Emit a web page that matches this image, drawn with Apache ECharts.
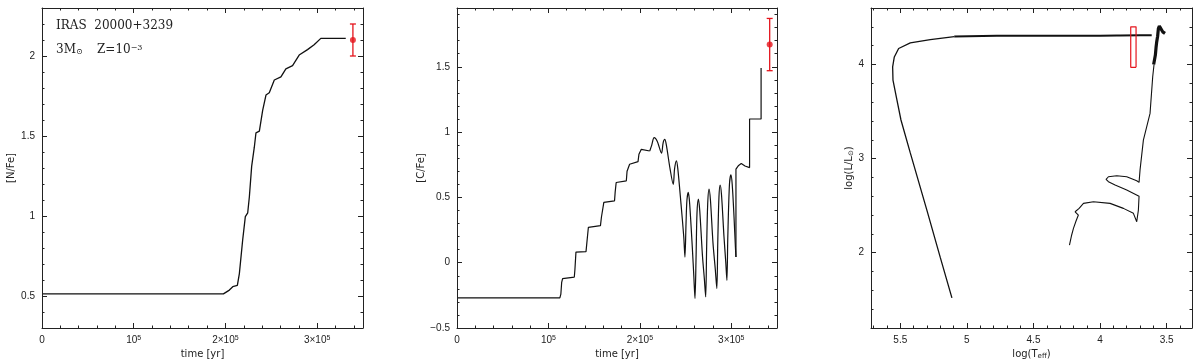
<!DOCTYPE html>
<html><head><meta charset="utf-8">
<script src="https://cdn.jsdelivr.net/npm/echarts@6/dist/echarts.min.js"></script>
<style>html,body{margin:0;padding:0;background:#fff}#c{width:1200px;height:363px}</style>
</head><body><div id="c"></div>
<script>
// ---------- DATA (time in units of 1e5 yr) ----------
const nfeTime = [0, 1.978, 2.043, 2.08, 2.13, 2.152, 2.188, 2.217, 2.243, 2.261, 2.286, 2.315, 2.333, 2.370, 2.406, 2.442, 2.478, 2.533, 2.605, 2.659, 2.732, 2.804, 2.895, 2.967, 3.040, 3.312];
const nfeVal  = [0.513, 0.513, 0.537, 0.558, 0.566, 0.64, 0.85, 0.996, 1.02, 1.12, 1.31, 1.43, 1.52, 1.53, 1.66, 1.756, 1.77, 1.85, 1.87, 1.92, 1.94, 2.006, 2.04, 2.07, 2.11, 2.11];

const cfeStepTime = [0, 1.125, 1.136, 1.145, 1.155, 1.283, 1.29, 1.301, 1.411, 1.42, 1.437, 1.569, 1.58, 1.606, 1.723, 1.73, 1.741, 1.852, 1.86, 1.888, 1.980, 1.99, 2.016, 2.108];
const cfeStepVal  = [-0.27, -0.27, -0.24, -0.15, -0.122, -0.11, -0.05, 0.081, 0.085, 0.15, 0.271, 0.284, 0.35, 0.462, 0.474, 0.54, 0.614, 0.627, 0.70, 0.754, 0.774, 0.83, 0.868, 0.855];
const cfeOscTime = [2.108, 2.13, 2.156, 2.19, 2.237, 2.255, 2.273, 2.29, 2.33, 2.365, 2.38, 2.40, 2.415, 2.45, 2.48, 2.493, 2.505, 2.515, 2.53, 2.545, 2.575, 2.59, 2.603, 2.615, 2.625, 2.64, 2.655, 2.685, 2.705, 2.72, 2.73, 2.742, 2.757, 2.772, 2.80, 2.825, 2.842, 2.852, 2.865, 2.878, 2.893, 2.92, 2.94, 2.952, 2.962, 2.98, 2.996, 3.01, 3.03, 3.045, 3.051];
const cfeOscVal  = [0.855, 0.90, 0.957, 0.93, 0.838, 0.92, 0.944, 0.90, 0.72, 0.60, 0.72, 0.78, 0.72, 0.45, 0.2, 0.043, 0.3, 0.48, 0.538, 0.45, 0.1, -0.1, -0.274, 0.05, 0.38, 0.487, 0.40, 0.05, -0.12, -0.262, 0.1, 0.45, 0.564, 0.48, 0.15, -0.05, -0.198, 0.15, 0.5, 0.594, 0.52, 0.2, 0.0, -0.135, 0.2, 0.6, 0.672, 0.60, 0.35, 0.12, 0.043];
const cfeEndTime = [3.051, 3.051, 3.08, 3.109, 3.15, 3.20, 3.20, 3.326, 3.326];
const cfeEndVal  = [0.043, 0.716, 0.745, 0.759, 0.74, 0.728, 1.10, 1.10, 1.49];

const obsTime = [3.39, 3.42];          // observed point positions (panel 1, panel 2)
const obsVal  = [2.10, 1.67];
const obsLo   = [2.00, 1.47];
const obsHi   = [2.20, 1.87];

const hrTeff = [4.23, 4.215, 4.20, 4.18, 4.163, 4.1875, 4.1575, 4.125, 4.05, 3.925, 3.825, 3.75, 3.725, 3.7125, 3.7075, 3.7125, 3.80, 3.8875, 3.9375, 3.955, 3.9375, 3.875, 3.80, 3.725, 3.7075, 3.70, 3.675, 3.625, 3.605, 3.595];
const hrLum  = [2.08, 2.18, 2.258, 2.34, 2.40, 2.435, 2.471, 2.524, 2.541, 2.524, 2.471, 2.418, 2.329, 2.453, 2.60, 2.612, 2.666, 2.719, 2.754, 2.78, 2.807, 2.818, 2.807, 2.764, 2.747, 2.88, 3.196, 3.48, 3.87, 4.0];
const agbTeff = [3.598, 3.585, 3.594, 3.58, 3.589, 3.575, 3.583, 3.568, 3.575, 3.5625, 3.555, 3.53, 3.5125];
const agbLum  = [4.0, 4.10, 4.09, 4.18, 4.16, 4.24, 4.22, 4.30, 4.28, 4.38, 4.407, 4.347, 4.33];
const postTeff = [3.6125, 3.70, 3.85, 3.863, 3.875, 4.0, 4.775, 5.095];
const postLum  = [4.311, 4.31, 4.308, 4.32, 4.308, 4.306, 4.304, 4.296];
const wdTeff = [5.095, 5.10, 5.275, 5.425, 5.5125, 5.545, 5.5575, 5.555, 5.53, 5.495, 5.425, 5.30, 5.20, 5.1125];
const wdLum  = [4.296, 4.276, 4.265, 4.23, 4.17, 4.08, 3.975, 3.834, 3.656, 3.41, 3.06, 2.45, 1.95, 1.52];
const boxTeff = [3.73, 3.77];
const boxLum  = [3.97, 4.40];

// tick labels
const timeTicks = [0, 1, 2, 3];
const timeTickLabels = ['0', '10{sup|5}', '2×10{sup|5}', '3×10{sup|5}'];
const nfeTicks = [0.5, 1, 1.5, 2];
const cfeTicks = [-0.5, 0, 0.5, 1, 1.5];
const teffTicks = [5.5, 5, 4.5, 4, 3.5];
const lumTicks = [2, 3, 4];

// ---------- helpers ----------
function zip(a, b) { return a.map((v, i) => [v, b[i]]); }
function minorVals(a, b, step, majors) {
  const out = [];
  for (let v = a; v <= b + 1e-9; v += step) {
    const r = Math.round(v * 1000) / 1000;
    if (!majors.some(m => Math.abs(m - r) < 1e-6)) out.push(r);
  }
  return out;
}
const AX = '#222';
const RED = '#e5141c';
const LBL = {color: '#222', fontFamily: 'Liberation Sans', fontSize: 10};
const NAME = {color: '#222', fontFamily: 'DejaVu Sans', fontSize: 10};

function axesSet(dim, gi, min, max, major, minor, fmt, name, nameGap, inverse, nameRich) {
  const p1 = dim === 'x' ? 'bottom' : 'left', p2 = dim === 'x' ? 'top' : 'right';
  const base = {gridIndex: gi, type: 'value', min, max, inverse: !!inverse, splitLine: {show: false}, z: 5};
  const line = {show: true, onZero: false, lineStyle: {color: AX, width: 1}};
  const noLine = {show: false, onZero: false};
  const tk = (vals, len) => ({show: true, inside: true, length: len, customValues: vals, lineStyle: {color: AX, width: 1}});
  return [
    Object.assign({}, base, {position: p1, axisLine: line, axisTick: tk(major, 5),
      axisLabel: Object.assign({show: true, customValues: major, formatter: fmt, margin: 7,
        rich: {sup: {fontSize: 7, verticalAlign: 'top', fontFamily: 'Liberation Sans', color: '#222'}}}, LBL),
      name: name, nameLocation: 'middle', nameGap: nameGap,
      nameTextStyle: Object.assign({rich: nameRich || {}}, NAME)}),
    Object.assign({}, base, {position: p1, axisLine: noLine, axisTick: tk(minor, 2.5), axisLabel: {show: false}}),
    Object.assign({}, base, {position: p2, axisLine: line, axisTick: tk(major, 5), axisLabel: {show: false}}),
    Object.assign({}, base, {position: p2, axisLine: noLine, axisTick: tk(minor, 2.5), axisLabel: {show: false}})
  ];
}
const timeFmt = v => { const i = timeTicks.indexOf(Math.round(v)); return i >= 0 ? timeTickLabels[i] : ''; };
const numFmt = v => String(v).replace('-', '\u2212');

const xAxes = [].concat(
  axesSet('x', 0, 0, 3.5, timeTicks, minorVals(0, 3.5, 0.2, timeTicks), timeFmt, 'time [yr]', 19),
  axesSet('x', 1, 0, 3.5, timeTicks, minorVals(0, 3.5, 0.2, timeTicks), timeFmt, 'time [yr]', 19),
  axesSet('x', 2, 3.31, 5.72, teffTicks, minorVals(3.4, 5.7, 0.1, teffTicks), numFmt, 'log(T{sub|eff})', 18, true,
    {sub: {fontSize: 7, verticalAlign: 'bottom', fontFamily: 'DejaVu Sans', color: '#222'}})
);
const yAxes = [].concat(
  axesSet('y', 0, 0.3, 2.3, nfeTicks, minorVals(0.3, 2.3, 0.1, nfeTicks), numFmt, '[N/Fe]', 26),
  axesSet('y', 1, -0.5, 1.95, cfeTicks, minorVals(-0.5, 1.95, 0.1, cfeTicks), numFmt, '[C/Fe]', 30),
  axesSet('y', 2, 1.2, 4.6, lumTicks, minorVals(1.2, 4.6, 0.2, lumTicks), numFmt, 'log(L/L{sub|⊙})', 16, false,
    {sub: {fontSize: 7, verticalAlign: 'bottom', fontFamily: 'DejaVu Sans', color: '#222'}})
);

function errRender(params, api) {
  const x = api.value(0), lo = api.value(2), hi = api.value(3);
  const a = api.coord([x, lo]), b = api.coord([x, hi]);
  const w = 3, st = {stroke: RED, lineWidth: 1.3};
  return {type: 'group', children: [
    {type: 'line', shape: {x1: a[0], y1: a[1], x2: b[0], y2: b[1]}, style: st},
    {type: 'line', shape: {x1: a[0] - w, y1: a[1], x2: a[0] + w, y2: a[1]}, style: st},
    {type: 'line', shape: {x1: b[0] - w, y1: b[1], x2: b[0] + w, y2: b[1]}, style: st}
  ]};
}
const blk = (w) => ({color: '#111', width: w});
function lineS(xi, data, w, smooth) {
  return {type: 'line', xAxisIndex: xi, yAxisIndex: xi, data: data, showSymbol: false, symbol: 'none',
    lineStyle: blk(w), smooth: smooth || false, z: 3, clip: true, silent: true};
}

const series = [
  lineS(0, zip(nfeTime, nfeVal), 1.3),
  lineS(4, zip(cfeStepTime, cfeStepVal), 1.2),
  lineS(4, zip(cfeOscTime, cfeOscVal), 1.2, 0.3),
  lineS(4, zip(cfeEndTime, cfeEndVal), 1.2),
  lineS(8, zip(hrTeff, hrLum), 1.1),
  lineS(8, zip(agbTeff, agbLum), 3.2),
  lineS(8, zip(postTeff, postLum), 2),
  lineS(8, zip(wdTeff, wdLum), 1.3),
  {type: 'line', xAxisIndex: 8, yAxisIndex: 8, showSymbol: false, symbol: 'none', z: 4,
    lineStyle: {color: RED, width: 1.2},
    data: [[boxTeff[0], boxLum[0]], [boxTeff[1], boxLum[0]], [boxTeff[1], boxLum[1]], [boxTeff[0], boxLum[1]], [boxTeff[0], boxLum[0]]]}
];
[0, 1].forEach(p => {
  series.push({type: 'custom', xAxisIndex: p * 4, yAxisIndex: p * 4, renderItem: errRender, z: 4,
    encode: {x: 0, y: 1}, data: [[obsTime[p], obsVal[p], obsLo[p], obsHi[p]]]});
  series.push({type: 'scatter', xAxisIndex: p * 4, yAxisIndex: p * 4, symbolSize: 6, z: 6,
    itemStyle: {color: RED}, data: [[obsTime[p], obsVal[p]]]});
});

const chart = echarts.init(document.getElementById('c'), null, {renderer: 'canvas'});
chart.setOption({
  animation: false,
  backgroundColor: '#fff',
  grid: [
    {left: 42, top: 8, width: 321, height: 320, outerBoundsMode: 'none'},
    {left: 457, top: 8, width: 320, height: 320, outerBoundsMode: 'none'},
    {left: 871, top: 8, width: 321, height: 320, outerBoundsMode: 'none'}
  ],
  xAxis: xAxes,
  yAxis: yAxes,
  series: series,
  graphic: [
    {type: 'text', left: 56, top: 20, style: {text: 'IRAS  20000+3239', font: '12px "DejaVu Serif"', fill: '#222'}},
    {type: 'text', left: 56, top: 44, style: {text: '3M{s|⊙}', fontFamily: 'DejaVu Serif', fontSize: 12, fill: '#222',
      rich: {s: {fontSize: 8, verticalAlign: 'bottom', fontFamily: 'DejaVu Serif', fill: '#222'}}}},
    {type: 'text', left: 97, top: 44, style: {text: 'Z=10{s|−3}', fontFamily: 'DejaVu Serif', fontSize: 12, fill: '#222',
      rich: {s: {fontSize: 8, verticalAlign: 'top', fontFamily: 'DejaVu Serif', fill: '#222'}}}}
  ]
});
</script>
</body></html>
